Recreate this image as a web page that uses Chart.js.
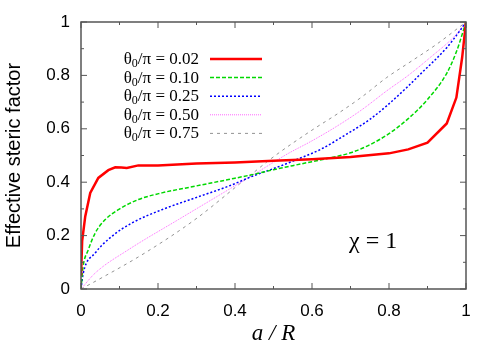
<!DOCTYPE html>
<html>
<head>
<meta charset="utf-8">
<script src="https://cdn.jsdelivr.net/npm/chart.js@4"></script>
<style>
  html, body { margin: 0; padding: 0; background: #fff; }
  #wrap { width: 500px; height: 350px; }
</style>
</head>
<body>
<div id="wrap"><canvas id="c" width="500" height="350"></canvas></div>
<script>
// 凡例の値 (θ0/π)
const thetaLabels = ["0.02", "0.10", "0.25", "0.50", "0.75"];

// θ0/π = 0.02
const xRed = [0, 0.003, 0.011, 0.024, 0.045, 0.071, 0.089, 0.105, 0.119, 0.149, 0.2, 0.3, 0.4, 0.5, 0.6, 0.7, 0.8, 0.85, 0.9, 0.95, 0.975, 0.99, 1];
const yRed = [0.05, 0.18, 0.272, 0.36, 0.416, 0.445, 0.456, 0.455, 0.453, 0.463, 0.463, 0.47, 0.474, 0.48, 0.486, 0.494, 0.508, 0.523, 0.548, 0.62, 0.717, 0.867, 1];
// θ0/π = 0.10
const xGreen = [0, 0.005, 0.019, 0.037, 0.063, 0.097, 0.149, 0.21, 0.296, 0.383, 0.45, 0.5, 0.55, 0.6, 0.65, 0.7, 0.75, 0.8, 0.85, 0.9, 0.95, 0.976, 1];
const yGreen = [0, 0.08, 0.147, 0.21, 0.26, 0.297, 0.335, 0.36, 0.385, 0.41, 0.43, 0.447, 0.462, 0.477, 0.492, 0.51, 0.54, 0.582, 0.638, 0.71, 0.808, 0.892, 1];
// θ0/π = 0.25
const xBlue = [0, 0.006, 0.037, 0.08, 0.132, 0.21, 0.296, 0.383, 0.45, 0.504, 0.578, 0.621, 0.69, 0.75, 0.794, 0.85, 0.881, 0.95, 0.984, 1];
const yBlue = [0, 0.06, 0.135, 0.197, 0.247, 0.297, 0.341, 0.385, 0.425, 0.453, 0.495, 0.522, 0.58, 0.635, 0.686, 0.76, 0.804, 0.904, 0.967, 1];
// θ0/π = 0.50
const xPink = [0, 0.037, 0.123, 0.253, 0.383, 0.45, 0.504, 0.535, 0.6, 0.665, 0.73, 0.794, 0.85, 0.907, 0.971, 1];
const yPink = [0, 0.06, 0.147, 0.26, 0.372, 0.43, 0.478, 0.505, 0.555, 0.61, 0.672, 0.742, 0.8, 0.867, 0.948, 1];
// θ0/π = 0.75
const xGray = [0, 0.045, 0.166, 0.296, 0.426, 0.5, 0.6, 0.665, 0.73, 0.794, 0.86, 0.924, 1];
const yGray = [0, 0.035, 0.135, 0.26, 0.41, 0.495, 0.595, 0.655, 0.72, 0.792, 0.855, 0.917, 1];

// x,y配列を点の配列に
function toPoints(xs, ys) {
  return xs.map((x, i) => ({ x: x, y: ys[i] }));
}

const styles = [
  { color: "#ff0000", width: 2.5, dash: [], smooth: false },
  { color: "#00d800", width: 1.5, dash: [4, 2], smooth: true },
  { color: "#0000ff", width: 1.5, dash: [2, 2], smooth: true },
  { color: "#ff66ff", width: 1, dash: [1, 1], smooth: true },
  { color: "#777777", width: 0.8, dash: [3, 4], smooth: true },
];
const series = [
  toPoints(xRed, yRed),
  toPoints(xGreen, yGreen),
  toPoints(xBlue, yBlue),
  toPoints(xPink, yPink),
  toPoints(xGray, yGray),
];

// 0,1 は整数表記
function fmtTick(v) {
  return String(Number(v.toFixed(1)));
}

// 枠・内向き目盛・凡例・χ表示
const decor = {
  id: "decor",
  afterDatasetsDraw(chart) {
    const ctx = chart.ctx;
    const xs = chart.scales.x;
    const ys = chart.scales.y;
    const a = chart.chartArea;
    ctx.save();
    ctx.strokeStyle = "#555";
    ctx.lineWidth = 1.5;
    ctx.setLineDash([]);
    ctx.strokeRect(a.left, a.top, a.right - a.left, a.bottom - a.top);
    ctx.lineWidth = 1;
    for (let i = 0; i <= 10; i++) {
      const v = i / 10;
      const len = i % 2 === 0 ? 6 : 3;
      const px = xs.getPixelForValue(v);
      const py = ys.getPixelForValue(v);
      ctx.beginPath();
      ctx.moveTo(px, a.bottom); ctx.lineTo(px, a.bottom - len);
      ctx.moveTo(px, a.top); ctx.lineTo(px, a.top + len);
      ctx.moveTo(a.left, py); ctx.lineTo(a.left + len, py);
      ctx.moveTo(a.right, py); ctx.lineTo(a.right - len, py);
      ctx.stroke();
    }

    // 凡例
    const big = '17px "Liberation Serif"';
    const small = '12px "Liberation Serif"';
    thetaLabels.forEach((lab, i) => {
      const y = 59 + i * 18.6;
      const rest = "/\u03c0 = " + lab;
      ctx.font = big;
      const w1 = ctx.measureText("\u03b8").width;
      const w3 = ctx.measureText(rest).width;
      ctx.font = small;
      const w2 = ctx.measureText("0").width;
      let x = 199 - (w1 + w2 + w3);
      ctx.fillStyle = "#000";
      ctx.textBaseline = "alphabetic";
      ctx.textAlign = "left";
      ctx.font = big;
      ctx.fillText("\u03b8", x, y + 5);
      x += w1;
      ctx.font = small;
      ctx.fillText("0", x, y + 8);
      x += w2;
      ctx.font = big;
      ctx.fillText(rest, x, y + 5);

      const s = styles[i];
      ctx.strokeStyle = s.color;
      ctx.lineWidth = s.width;
      ctx.setLineDash(s.dash);
      ctx.beginPath();
      ctx.moveTo(210, y);
      ctx.lineTo(262, y);
      ctx.stroke();
    });

    ctx.setLineDash([]);
    ctx.fillStyle = "#000";
    ctx.font = '24px "Liberation Serif"';
    ctx.fillText("\u03c7 = 1", 349, 248);
    ctx.restore();
  },
};

new Chart(document.getElementById("c"), {
  type: "line",
  data: {
    datasets: series.map((pts, i) => ({
      label: thetaLabels[i],
      data: pts,
      borderColor: styles[i].color,
      borderWidth: styles[i].width,
      borderDash: styles[i].dash,
      cubicInterpolationMode: styles[i].smooth ? "monotone" : "default",
      tension: styles[i].smooth ? 0.4 : 0,
      pointRadius: 0,
      fill: false,
    })),
  },
  options: {
    responsive: false,
    animation: false,
    layout: { padding: { left: 0, right: 34, top: 22, bottom: 0 } },
    plugins: { legend: { display: false }, tooltip: { enabled: false } },
    scales: {
      x: {
        type: "linear",
        min: 0,
        max: 1,
        afterFit: (s) => { s.height = 61; },
        grid: { display: false, drawTicks: false },
        border: { display: false },
        ticks: {
          stepSize: 0.2,
          padding: 12,
          color: "#000",
          font: { family: "Liberation Sans", size: 17 },
          callback: (v) => fmtTick(v),
        },
        title: {
          display: true,
          text: "a / R",
          color: "#000",
          padding: { top: 0, bottom: 2 },
          font: { family: "Liberation Serif", size: 23, style: "italic" },
        },
      },
      y: {
        type: "linear",
        min: 0,
        max: 1,
        afterFit: (s) => { s.width = 81; },
        grid: { display: false, drawTicks: false },
        border: { display: false },
        ticks: {
          stepSize: 0.2,
          padding: 11,
          color: "#000",
          font: { family: "Liberation Sans", size: 17 },
          callback: (v) => fmtTick(v),
        },
        title: {
          display: true,
          text: "Effective steric factor",
          color: "#000",
          padding: { top: 2, bottom: 0 },
          font: { family: "Liberation Sans", size: 20 },
        },
      },
    },
  },
  plugins: [decor],
});
</script>
</body>
</html>
